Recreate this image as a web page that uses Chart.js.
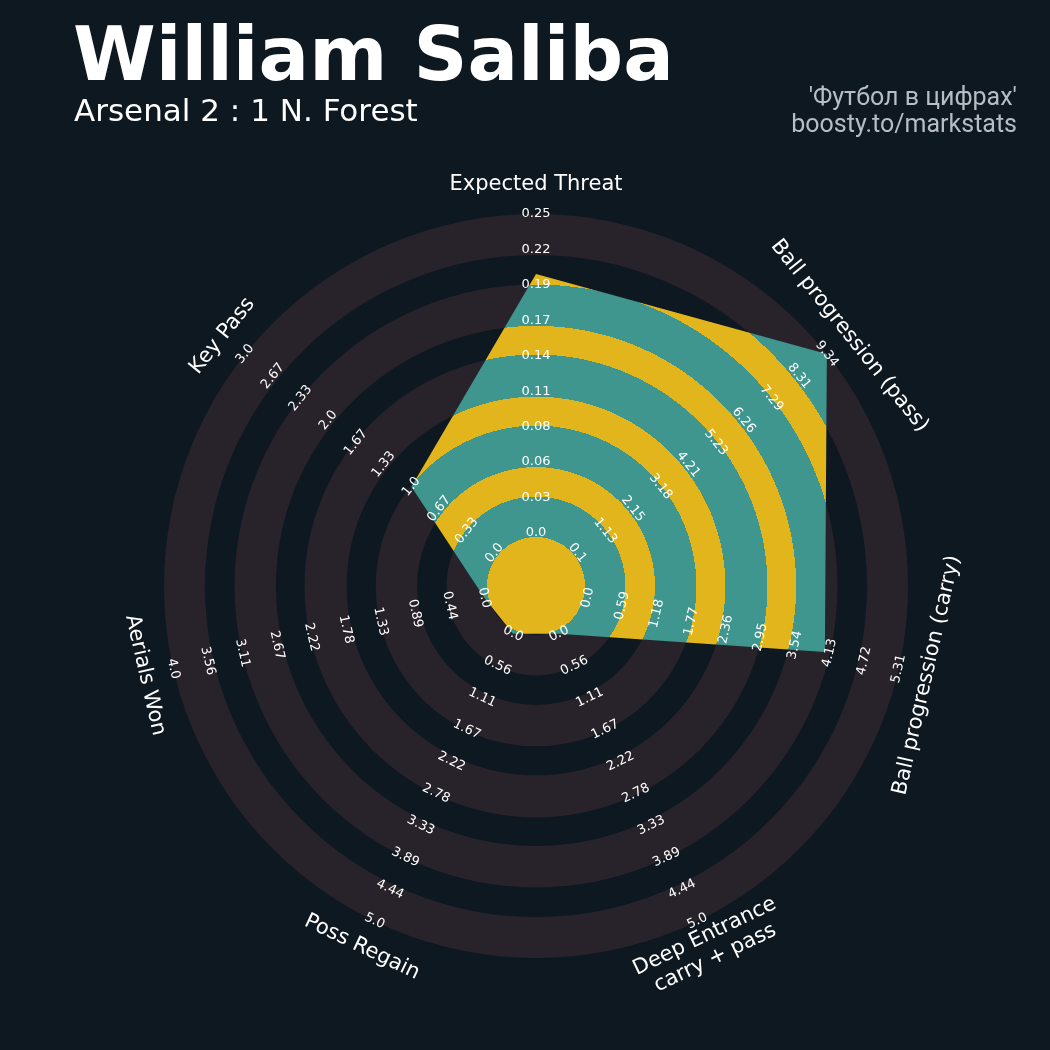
<!DOCTYPE html>
<html>
<head>
<meta charset="utf-8">
<script src="https://cdn.jsdelivr.net/npm/chart.js@4.4.1/dist/chart.umd.min.js"></script>
<style>
  html, body { margin: 0; padding: 0; background: #0e1820; }
  #wrap { position: relative; width: 1050px; height: 1050px; background: #0e1820; overflow: hidden; }
  #c { position: absolute; left: 0; top: 0; }
  .t { position: absolute; white-space: nowrap; }
  #title { left: 73px; top: 17px; font: bold 75px "DejaVu Sans"; line-height: 1; color: #ffffff; }
  #sub { left: 74px; top: 95px; font: 31px "DejaVu Sans"; line-height: 1; color: #ffffff; }
  #credit { right: 33px; top: 83px; font: 25px Roboto; line-height: 27.4px; color: #b6bdc4; text-align: right; }
</style>
</head>
<body>
<div id="wrap">
  <canvas id="c" width="1050" height="1050"></canvas>
  <div id="title" class="t">William Saliba</div>
  <div id="sub" class="t">Arsenal 2 : 1 N. Forest</div>
  <div id="credit" class="t">'Футбол в цифрах'<br>boosty.to/markstats</div>
</div>
<script>
// ---- data ----
const categories = ['Expected Threat', 'Ball progression (pass)', 'Ball progression (carry)',
  'Deep Entrance\ncarry + pass', 'Poss Regain', 'Aerials Won', 'Key Pass'];
const lowValues = [0.0, 0.1, 0.0, 0.0, 0.0, 0.0, 0.0];
const highValues = [0.25, 9.34, 5.31, 5.0, 5.0, 4.0, 3.0];
const playerValues = [0.203, 9.34, 4.05, 0.0, 0.0, 0.0, 1.0];
const tickExpectedThreat = ['0.0', '0.03', '0.06', '0.08', '0.11', '0.14', '0.17', '0.19', '0.22', '0.25'];
const tickPass = ['0.1', '1.13', '2.15', '3.18', '4.21', '5.23', '6.26', '7.29', '8.31', '9.34'];
const tickCarry = ['0.0', '0.59', '1.18', '1.77', '2.36', '2.95', '3.54', '4.13', '4.72', '5.31'];
const tickDeepEntrance = ['0.0', '0.56', '1.11', '1.67', '2.22', '2.78', '3.33', '3.89', '4.44', '5.0'];
const tickPossRegain = ['0.0', '0.56', '1.11', '1.67', '2.22', '2.78', '3.33', '3.89', '4.44', '5.0'];
const tickAerials = ['0.0', '0.44', '0.89', '1.33', '1.78', '2.22', '2.67', '3.11', '3.56', '4.0'];
const tickKeyPass = ['0.0', '0.33', '0.67', '1.0', '1.33', '1.67', '2.0', '2.33', '2.67', '3.0'];
const tickLabels = [tickExpectedThreat, tickPass, tickCarry, tickDeepEntrance, tickPossRegain, tickAerials, tickKeyPass];

// ---- styling ----
const BG = '#0e1820';
const RING = '#28232b';
const TEAL = '#3e968f';
const YELLOW = '#e3b51c';
const STEPS = tickExpectedThreat.length - 1;     // 9 intervals
const INNER = 1.4955;                             // empty centre, in interval units
const RING_EDGES = [0.1316, 0.2404, 0.3196, 0.4311, 0.5090, 0.6223, 0.6992, 0.8104, 0.8899, 1.0];
const LABEL_GAP = 29;

const scaled = playerValues.map((v, i) =>
  Math.min(Math.max((v - lowValues[i]) / (highValues[i] - lowValues[i]), 0), 1) * STEPS);

function bandFill(context) {
  const chart = context.chart;
  const s = chart.scales.r;
  if (!s || !s.drawingArea) return TEAL;
  const g = chart.ctx.createRadialGradient(s.xCenter, s.yCenter, 0, s.xCenter, s.yCenter, s.drawingArea);
  let prev = 0;
  RING_EDGES.forEach((e, k) => {
    const col = k % 2 === 0 ? YELLOW : TEAL;
    g.addColorStop(prev, col);
    g.addColorStop(e, col);
    prev = e;
  });
  return g;
}

const radarDecor = {
  id: 'radarDecor',
  beforeDatasetsDraw(chart) {
    const s = chart.scales.r, ctx = chart.ctx;
    ctx.save();
    ctx.fillStyle = RING;
    for (let k = 0; k < RING_EDGES.length; k += 2) {
      const r1 = RING_EDGES[k] * s.drawingArea, r2 = RING_EDGES[k + 1] * s.drawingArea;
      ctx.beginPath();
      ctx.arc(s.xCenter, s.yCenter, r2, 0, Math.PI * 2, false);
      ctx.arc(s.xCenter, s.yCenter, r1, Math.PI * 2, 0, true);
      ctx.closePath();
      ctx.fill();
    }
    ctx.restore();
  },
  afterDatasetsDraw(chart) {
    const s = chart.scales.r, ctx = chart.ctx;
    ctx.save();
    ctx.fillStyle = '#ffffff';
    ctx.textAlign = 'center';
    ctx.textBaseline = 'middle';
    for (let i = 0; i < categories.length; i++) {
      const a = s.getIndexAngle(i);
      let rot = a;
      if (rot > Math.PI / 2 && rot < Math.PI * 1.5) rot -= Math.PI;
      ctx.font = '13px "DejaVu Sans"';
      tickLabels[i].forEach((txt, j) => {
        const p = s.getPointPositionForValue(i, j);
        ctx.save();
        ctx.translate(p.x, p.y);
        ctx.rotate(rot);
        ctx.fillText(txt, 0, 0);
        ctx.restore();
      });
      const lp = s.getPointPosition(i, s.drawingArea + LABEL_GAP);
      ctx.font = '21px "DejaVu Sans"';
      const lines = categories[i].split('\n');
      ctx.save();
      ctx.translate(lp.x, lp.y);
      ctx.rotate(rot);
      lines.forEach((ln, k) => ctx.fillText(ln, 0, (k - (lines.length - 1) / 2) * 24));
      ctx.restore();
    }
    ctx.restore();
  }
};

new Chart(document.getElementById('c'), {
  type: 'radar',
  data: {
    labels: categories,
    datasets: [{
      data: scaled,
      backgroundColor: bandFill,
      borderWidth: 0,
      borderColor: 'rgba(0,0,0,0)',
      pointRadius: 0,
      pointHoverRadius: 0,
      fill: 'start',
      tension: 0
    }]
  },
  options: {
    responsive: false,
    animation: false,
    devicePixelRatio: 1,
    events: [],
    layout: { padding: { left: 164, top: 214, right: 142, bottom: 92 } },
    plugins: { legend: { display: false }, tooltip: { enabled: false }, title: { display: false } },
    scales: {
      r: {
        min: -INNER,
        max: STEPS,
        startAngle: 0,
        ticks: { display: false },
        grid: { display: false },
        angleLines: { display: false },
        pointLabels: { display: false }
      }
    }
  },
  plugins: [radarDecor]
});
</script>
</body>
</html>
